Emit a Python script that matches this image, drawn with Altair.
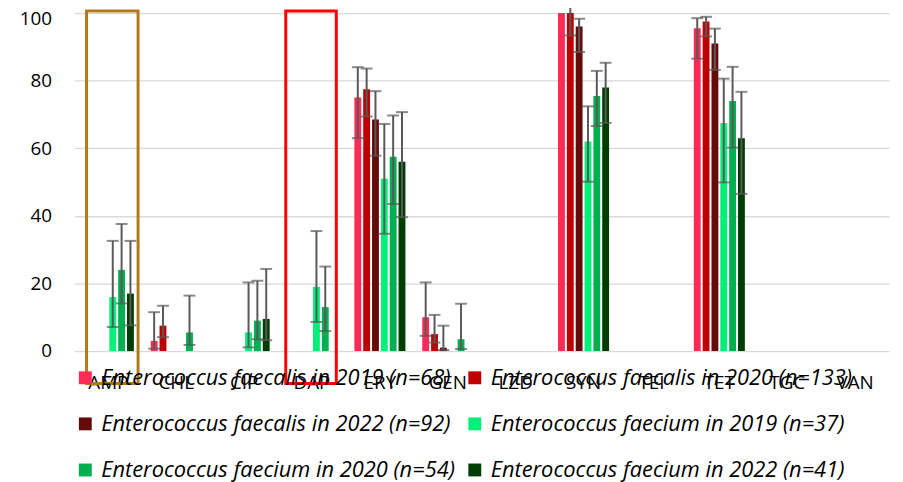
import altair as alt
import pandas as pd

categories = ["AMP", "CHL", "CIP", "DAP", "ERY", "GEN", "LZD", "SYN", "TEI", "TET", "TGC", "VAN"]
series = [
    "Enterococcus faecalis in 2019 (n=68)",
    "Enterococcus faecalis in 2020 (n=133)",
    "Enterococcus faecalis in 2022 (n=92)",
    "Enterococcus faecium in 2019 (n=37)",
    "Enterococcus faecium in 2020 (n=54)",
    "Enterococcus faecium in 2022 (n=41)",
]
colors = ["#FF2A55", "#C00000", "#650B0B", "#00F07A", "#00B050", "#003D00"]

# resistance (%) per series, in category order
faecalis_2019 = [0, 3, 0, 0, 75, 10, 0, 100, 0, 95.5, 0, 0]
faecalis_2020 = [0, 7.5, 0, 0, 77.5, 5, 0, 100, 0, 97.5, 0, 0]
faecalis_2022 = [0, 0, 0, 0, 68.5, 1, 0, 96, 0, 91, 0, 0]
faecium_2019 = [16, 0, 5.5, 19, 51, 0, 0, 62, 0, 67.5, 0, 0]
faecium_2020 = [24, 5.5, 9, 13, 57.5, 3.5, 0, 75.5, 0, 74, 0, 0]
faecium_2022 = [17, 0, 9.5, 0, 56, 0, 0, 78, 0, 63, 0, 0]

# 95% CI lower / upper (None = no error bar)
faecalis_2019_lo = [None, 0.7, None, None, 63, 4.5, None, None, None, 86.5, None, None]
faecalis_2019_hi = [None, 11.5, None, None, 84, 20.3, None, None, None, 98.5, None, None]
faecalis_2020_lo = [None, 4.1, None, None, 69.4, 2.5, None, 93.4, None, 93.1, None, None]
faecalis_2020_hi = [None, 13.4, None, None, 83.6, 10.7, None, 103, None, 98.9, None, None]
faecalis_2022_lo = [None, None, None, None, 57.8, 0.3, None, 88.5, None, 83.2, None, None]
faecalis_2022_hi = [None, None, None, None, 76.9, 7.5, None, 98.3, None, 95.4, None, None]
faecium_2019_lo = [7.1, None, 1.1, 8.6, 34.7, None, None, 50.1, None, 49.9, None, None]
faecium_2019_hi = [32.6, None, 20.3, 35.5, 67.2, None, None, 72.4, None, 80.6, None, None]
faecium_2020_lo = [14.1, 1.8, 3.5, 5.9, 43.5, 0.6, None, 66.6, None, 60.2, None, None]
faecium_2020_hi = [37.6, 16.4, 20.8, 25.0, 69.7, 14.0, None, 82.9, None, 84.1, None, None]
faecium_2022_lo = [7.6, None, 3.2, None, 39.6, None, None, 67.5, None, 46.5, None, None]
faecium_2022_hi = [32.6, None, 24.3, None, 70.7, None, None, 85.3, None, 76.7, None, None]

# highlight boxes
box_cats = ["AMP", "DAP"]
box_top = [100.6, 100.6]
box_bottom = [-9.6, -9.6]

vals = [faecalis_2019, faecalis_2020, faecalis_2022, faecium_2019, faecium_2020, faecium_2022]
los = [faecalis_2019_lo, faecalis_2020_lo, faecalis_2022_lo, faecium_2019_lo, faecium_2020_lo, faecium_2022_lo]
his = [faecalis_2019_hi, faecalis_2020_hi, faecalis_2022_hi, faecium_2019_hi, faecium_2020_hi, faecium_2022_hi]

rows = []
err_rows = []
for s, v, lo, hi in zip(series, vals, los, his):
    for c, vv, l, h in zip(categories, v, lo, hi):
        rows.append({"cat": c, "series": s, "value": vv})
        if l is not None and h is not None:
            err_rows.append({"cat": c, "series": s, "lo": l, "hi": h})
df = pd.DataFrame(rows)
df_err = pd.DataFrame(err_rows)
df_box = pd.DataFrame({"cat": box_cats, "top": box_top, "bottom": box_bottom})

# legend fills column-first, so reorder for a row-first reading of 2 columns
leg_idx = [0, 2, 4, 1, 3, 5]
leg_domain = [series[i] for i in leg_idx]
leg_range = [colors[i] for i in leg_idx]

FONT = "Open Sans"
pi = 15 / 68.5

x_enc = alt.X(
    "cat:N",
    sort=categories,
    scale=alt.Scale(domain=categories, range=[0, 822], paddingInner=pi, paddingOuter=pi / 2),
    axis=alt.Axis(title=None, labelAngle=0, domain=False, ticks=False, tickSize=0,
                  labelFont=FONT, labelFontSize=19, labelColor="black", labelPadding=23, grid=False),
)
xo_enc = alt.XOffset("series:N", sort=series,
                     scale=alt.Scale(domain=series, paddingInner=2 / 9, paddingOuter=1 / 9))
y_scale = alt.Scale(domain=[0, 100], nice=False)

bars = alt.Chart(df).mark_bar().encode(
    x=x_enc,
    xOffset=xo_enc,
    y=alt.Y("value:Q", scale=y_scale,
            axis=alt.Axis(title=None, values=[0, 20, 40, 60, 80, 100], domain=False, ticks=False,
                          tickSize=0, labelFont=FONT, labelFontSize=19, labelColor="black",
                          labelPadding=23, gridColor="#D9D9D9", gridWidth=1.3,
                          labelOffset={"condition": {"test": "datum.value === 100", "value": 6},
                                       "value": 0})),
    color=alt.Color("series:N", scale=alt.Scale(domain=leg_domain, range=leg_range),
                    legend=alt.Legend(title=None, orient="none", legendX=0, legendY=357, columns=2,
                                      symbolType="square", symbolSize=169, symbolStrokeWidth=0,
                                      labelFont=FONT, labelFontStyle="italic", labelFontSize=22,
                                      labelColor="black", labelOffset=5, rowPadding=24.5,
                                      columnPadding=9, padding=0, labelLimit=600)),
)

err_base = alt.Chart(df_err).encode(x=alt.X("cat:N", sort=categories), xOffset=alt.XOffset("series:N", sort=series))
err_rule = err_base.mark_rule(color="#595959", strokeWidth=2).encode(
    y=alt.Y("lo:Q", scale=y_scale), y2="hi:Q")
err_lo = err_base.mark_tick(color="#595959", size=12, thickness=2).encode(y=alt.Y("lo:Q", scale=y_scale))
err_hi = err_base.mark_tick(color="#595959", size=12, thickness=2).encode(y=alt.Y("hi:Q", scale=y_scale))

box_amp = alt.Chart(df_box[df_box.cat == "AMP"]).mark_bar(
    width=52, fillOpacity=0, stroke="#B07A1A", strokeWidth=3, xOffset=4
).encode(x=alt.X("cat:N", sort=categories), y=alt.Y("top:Q", scale=y_scale), y2="bottom:Q")
box_dap = alt.Chart(df_box[df_box.cat == "DAP"]).mark_bar(
    width=51, fillOpacity=0, stroke="#FF0000", strokeWidth=3, xOffset=-1
).encode(x=alt.X("cat:N", sort=categories), y=alt.Y("top:Q", scale=y_scale), y2="bottom:Q")

chart = alt.layer(bars, err_rule, err_lo, err_hi, box_amp, box_dap).properties(
    width=828, height=341,
    autosize=alt.AutoSizeParams(type="none"),
    padding={"left": 67, "top": 3, "right": 0, "bottom": 130},
    background="white",
).configure_view(strokeWidth=0)

chart.save("out.html", embed_options={"renderer": "svg", "actions": False})
